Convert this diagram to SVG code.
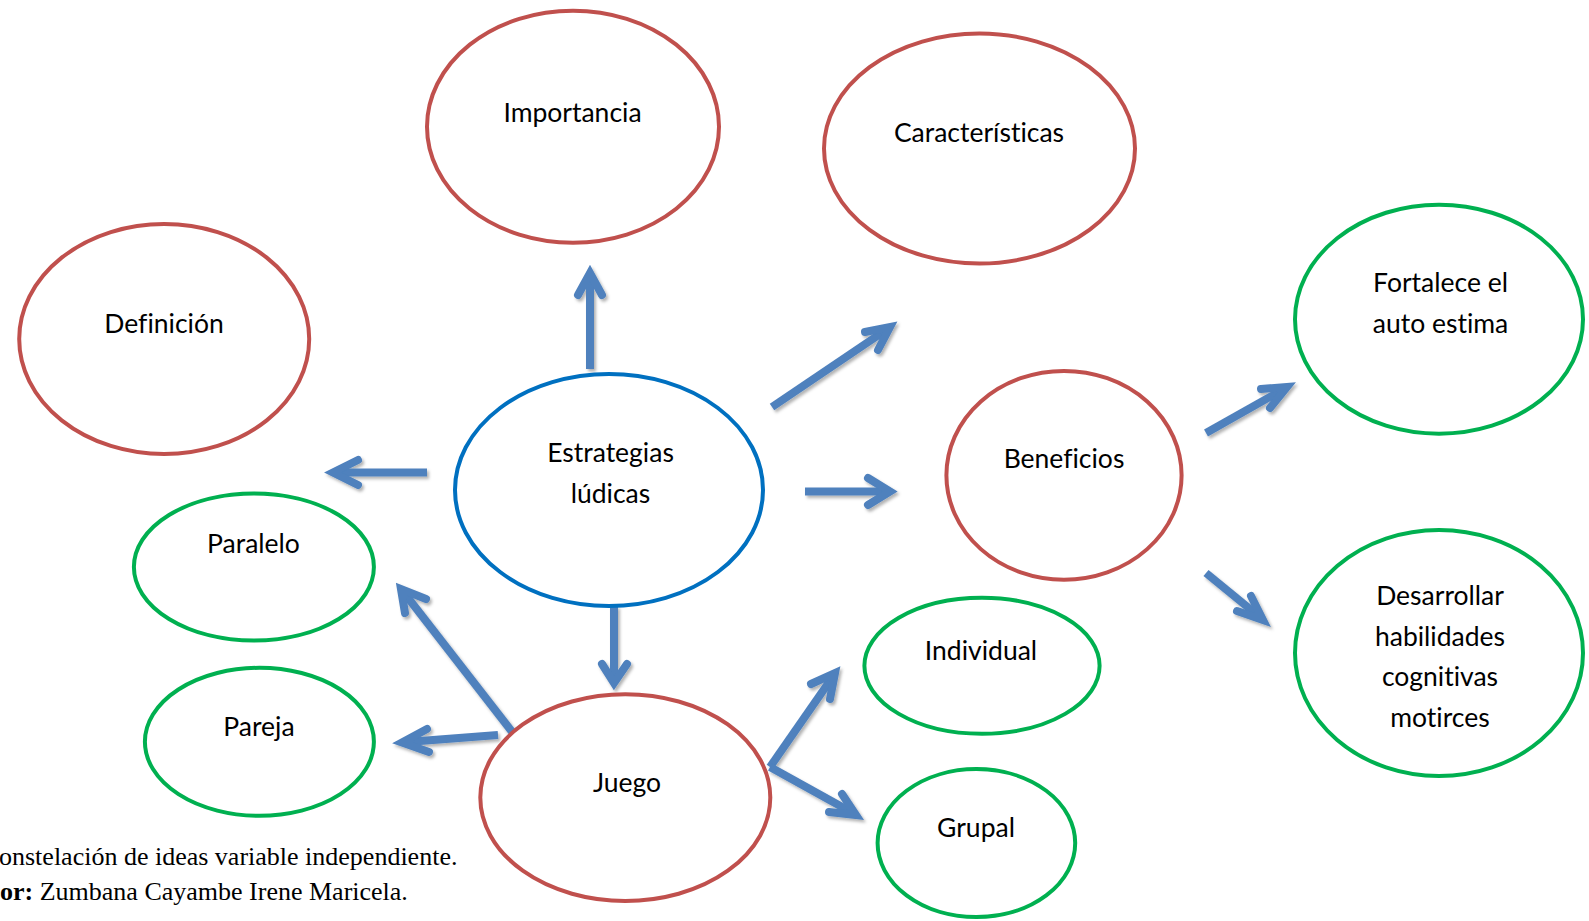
<svg xmlns="http://www.w3.org/2000/svg" width="1589" height="921" viewBox="0 0 1589 921">
  <defs>
    <filter id="shadow" x="-20%" y="-20%" width="140%" height="140%">
      <feDropShadow dx="2" dy="2.5" stdDeviation="1.5" flood-color="#000" flood-opacity="0.3"/>
    </filter>
  </defs>
  <style>
    .node ellipse { fill: #fff; stroke-width: 4; }
    .red ellipse { stroke: #C0504D; }
    .green ellipse { stroke: #00B050; }
    .blue ellipse { stroke: #0070C0; }
    .node text { font-family: Lato, "Open Sans", sans-serif; font-size: 26.5px; fill: #000; text-anchor: middle; font-variant-ligatures: none; }
    .shaft { stroke: #4F81BD; stroke-width: 8; fill: none; stroke-linecap: butt; }
    .head { stroke: #4F81BD; stroke-width: 8; fill: none; stroke-linecap: round; stroke-linejoin: miter; stroke-miterlimit: 10; }
    .caption { font-family: "Liberation Serif", serif; font-size: 26px; fill: #000; }
  </style>

  <rect width="1589" height="921" fill="#fff"/>

  <!-- connectors: thick shafts with open chevron heads -->
  <g id="connectors" filter="url(#shadow)">
    <!-- Estrategias -> Importancia -->
    <line class="shaft" x1="590" y1="369" x2="590" y2="275"/>
    <path class="head" d="M578 295 L590 273 L602 295"/>
    <!-- Estrategias -> Definición -->
    <line class="shaft" x1="427" y1="472.5" x2="335" y2="472.5"/>
    <path class="head" d="M358 460 L333 472.5 L358 485"/>
    <!-- Estrategias -> Características -->
    <line class="shaft" x1="772" y1="407" x2="886" y2="330"/>
    <path class="head" d="M865 332 L890 327 L878 350"/>
    <!-- Estrategias -> Beneficios -->
    <line class="shaft" x1="805" y1="491.5" x2="886" y2="491.5"/>
    <path class="head" d="M868 478 L890 491.5 L868 505"/>
    <!-- Estrategias -> Juego -->
    <line class="shaft" x1="614" y1="606" x2="614" y2="680"/>
    <path class="head" d="M602 664 L614 683 L627 664"/>
    <!-- Juego -> Paralelo -->
    <line class="shaft" x1="513" y1="733" x2="405" y2="594"/>
    <path class="head" d="M405 613 L401 589 L426 599"/>
    <!-- Juego -> Pareja -->
    <line class="shaft" x1="498" y1="735" x2="407" y2="742"/>
    <path class="head" d="M427 729 L402 742.5 L429 752"/>
    <!-- Juego -> Individual -->
    <line class="shaft" x1="770" y1="767" x2="834" y2="675"/>
    <path class="head" d="M811 684 L835 673 L830 699"/>
    <!-- Juego -> Grupal -->
    <line class="shaft" x1="770" y1="767" x2="853" y2="813"/>
    <path class="head" d="M829 812 L856 815 L842 794"/>
    <!-- Beneficios -> Fortalece el auto estima -->
    <line class="shaft" x1="1206" y1="433" x2="1284" y2="389"/>
    <path class="head" d="M1261 389 L1287 387 L1270 408"/>
    <!-- Beneficios -> Desarrollar habilidades -->
    <line class="shaft" x1="1206" y1="573" x2="1261" y2="618"/>
    <path class="head" d="M1251 596 L1263 620 L1237 611"/>
  </g>

  <g id="importancia" class="node red">
    <ellipse cx="573" cy="126.7" rx="146" ry="116"/>
    <text x="572.5" y="121.5">Importancia</text>
  </g>
  <g id="caracteristicas" class="node red">
    <ellipse cx="979.5" cy="148.5" rx="155.5" ry="115"/>
    <text x="979" y="142">Características</text>
  </g>
  <g id="definicion" class="node red">
    <ellipse cx="164.2" cy="339" rx="145" ry="115"/>
    <text x="164" y="332.5">Definición</text>
  </g>
  <g id="estrategias" class="node blue">
    <ellipse cx="609" cy="490" rx="154" ry="116"/>
    <text x="610.5" y="461.5">Estrategias</text>
    <text x="610.5" y="503">lúdicas</text>
  </g>
  <g id="beneficios" class="node red">
    <ellipse cx="1064" cy="475.3" rx="117.6" ry="104.4"/>
    <text x="1064" y="468">Beneficios</text>
  </g>
  <g id="fortalece" class="node green">
    <ellipse cx="1439" cy="319.2" rx="144" ry="114.5"/>
    <text x="1440.5" y="291.5">Fortalece el</text>
    <text x="1440.5" y="332.5">auto estima</text>
  </g>
  <g id="desarrollar" class="node green">
    <ellipse cx="1439" cy="653" rx="144" ry="123"/>
    <text x="1440" y="605">Desarrollar</text>
    <text x="1440" y="645.5">habilidades</text>
    <text x="1440" y="686">cognitivas</text>
    <text x="1440" y="726.5">motirces</text>
  </g>
  <g id="paralelo" class="node green">
    <ellipse cx="253.9" cy="567" rx="120" ry="73.5"/>
    <text x="253.5" y="552.5">Paralelo</text>
  </g>
  <g id="pareja" class="node green">
    <ellipse cx="259.4" cy="741.8" rx="114.5" ry="74"/>
    <text x="259" y="735.5">Pareja</text>
  </g>
  <g id="juego" class="node red">
    <ellipse cx="625.3" cy="797.6" rx="145" ry="103.4"/>
    <text x="627" y="791.5">Juego</text>
  </g>
  <g id="individual" class="node green">
    <ellipse cx="982" cy="665.8" rx="117.6" ry="68"/>
    <text x="981" y="659.5">Individual</text>
  </g>
  <g id="grupal" class="node green">
    <ellipse cx="976.4" cy="843.1" rx="98.8" ry="74"/>
    <text x="976" y="837">Grupal</text>
  </g>

  <!-- figure caption, running off the left page edge -->
  <g id="caption">
    <text class="caption" x="-1" y="865">onstelación de ideas variable independiente.</text>
    <text class="caption" x="0" y="900"><tspan font-weight="bold">or:</tspan> Zumbana Cayambe Irene Maricela.</text>
  </g>
</svg>
